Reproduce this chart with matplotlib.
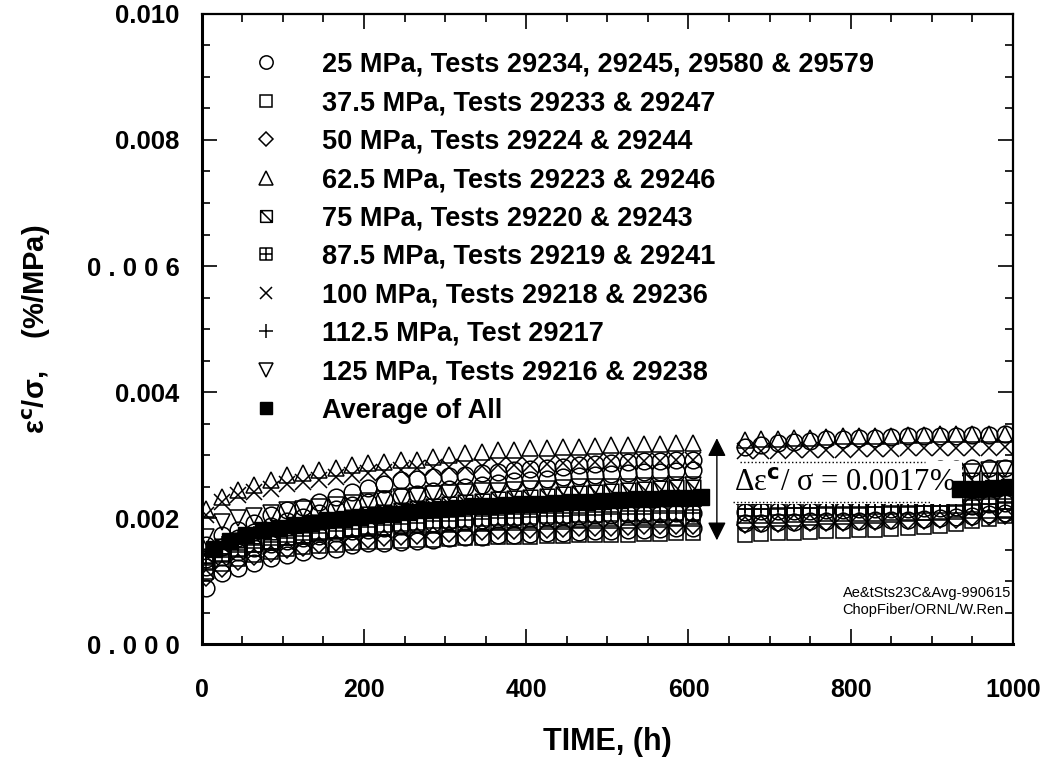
import numpy as np
import matplotlib
matplotlib.use('Agg')
import matplotlib.pyplot as plt
from matplotlib.path import Path
from matplotlib import font_manager

# TIME GRIDS (h)
t_left = list(range(5, 606, 20))
t_right = list(range(670, 991, 20))
t_avg_left = list(range(15, 616, 20))
t_avg_right = [935, 955, 975, 995]

# CREEP COMPLIANCE VALUES, in units of 1e-4 %/MPa
# 25 MPa, four tests
circ_a_l = [15.7, 17.3, 18.1, 19.2, 20.5, 21.3, 21.8, 22.6, 23.4, 24.2, 24.8, 25.4, 26.0, 26.3, 26.5, 26.7,
            26.9, 27.1, 27.4, 27.6, 27.8, 28.0, 28.2, 28.4, 28.6, 28.8, 28.9, 29.0, 29.1, 29.2, 29.3]
circ_a_r = [31.3, 31.6, 31.9, 32.1, 32.3, 32.5, 32.6, 32.7, 32.8, 32.9, 33.0, 33.0, 33.1, 33.1, 33.2, 33.2, 33.3]
circ_b_l = [13.5, 15.5, 16.8, 17.8, 18.7, 19.5, 20.2, 20.9, 21.5, 22.1, 22.6, 23.1, 23.5, 23.9, 24.3, 24.7,
            25.0, 25.3, 25.6, 25.9, 26.1, 26.3, 26.5, 26.7, 26.9, 27.0, 27.2, 27.3, 27.4, 27.5, 27.6]
circ_b_r = [27.0, 27.1, 27.2, 27.3, 27.3, 27.4, 27.5, 27.5, 27.6, 27.6, 27.7, 27.7, 27.8, 27.8, 27.9, 27.9, 28.0]
circ_c_l = [12.2, 13.8, 14.6, 15.3, 15.9, 16.4, 16.8, 17.2, 17.6, 17.9, 18.2, 18.5, 18.8, 19.1, 19.3, 19.5,
            19.6, 19.8, 19.9, 20.0, 20.1, 20.2, 20.3, 20.4, 20.5, 20.5, 20.6, 20.7, 20.7, 20.8, 20.8]
circ_c_r = [21.0, 21.1, 21.1, 21.2, 21.2, 21.3, 21.3, 21.4, 21.4, 21.5, 21.5, 21.6, 21.7, 21.8, 22.0, 22.2, 22.4]
circ_d_l = [8.9, 11.3, 12.1, 12.9, 13.7, 14.2, 14.7, 14.9, 15.2, 15.7, 16.0, 16.0, 16.2, 16.4, 16.6, 16.8,
            17.0, 17.1, 17.3, 17.4, 17.5, 17.6, 17.7, 17.8, 17.9, 18.0, 18.1, 18.2, 18.3, 18.4, 18.5]
circ_d_r = [19.2, 19.3, 19.4, 19.4, 19.5, 19.5, 19.6, 19.6, 19.7, 19.7, 19.8, 19.9, 20.0, 20.2, 20.4, 20.6, 20.8]
# 37.5 MPa, two tests
sq_a_l = [11.5, 12.8, 13.6, 14.2, 14.7, 15.1, 15.4, 15.6, 15.8, 16.0, 16.2, 16.3, 16.4, 16.5, 16.6, 16.7,
          16.8, 16.9, 17.0, 17.1, 17.1, 17.2, 17.2, 17.3, 17.3, 17.4, 17.4, 17.5, 17.5, 17.6, 17.6]
sq_a_r = [17.4, 17.5, 17.6, 17.7, 17.8, 17.9, 18.0, 18.1, 18.2, 18.3, 18.4, 18.6, 18.8, 19.1, 19.5, 19.9, 20.3]
sq_b_l = [13.0, 14.4, 15.2, 15.8, 16.3, 16.8, 17.2, 17.5, 17.8, 18.1, 18.3, 18.5, 18.7, 18.9, 19.0, 19.1,
          19.2, 19.3, 19.4, 19.5, 19.6, 19.7, 19.7, 19.8, 19.9, 19.9, 20.0, 20.0, 20.1, 20.1, 20.2]
sq_b_r = [20.3, 20.4, 20.4, 20.5, 20.5, 20.6, 20.6, 20.7, 20.7, 20.8, 20.8, 20.9, 20.9, 21.0, 21.1, 21.2, 21.3]
# 50 MPa
dia_l = [10.5, 12.0, 13.0, 13.8, 14.4, 14.9, 15.3, 15.7, 16.0, 16.3, 16.6, 16.8, 17.0, 17.2, 17.4, 17.5,
         17.7, 17.8, 17.9, 18.0, 18.1, 18.2, 18.3, 18.4, 18.5, 18.5, 18.6, 18.7, 18.7, 18.8, 18.8]
dia_r = [19.0, 19.1, 19.1, 19.2, 19.2, 19.3, 19.3, 19.4, 19.4, 19.5, 19.5, 19.6, 19.7, 19.8, 20.0, 20.2, 20.4]
# 62.5 MPa
tri_l = [21.5, 23.4, 24.5, 25.2, 26.0, 26.8, 27.1, 27.6, 27.9, 28.4, 28.7, 28.9, 29.2, 29.3, 29.7, 30.0,
         30.3, 30.5, 30.8, 30.8, 31.1, 31.1, 31.3, 31.3, 31.4, 31.6, 31.6, 31.7, 31.8, 31.9, 32.0]
tri_r = [32.4, 32.5, 32.6, 32.7, 32.8, 32.9, 33.0, 33.0, 33.1, 33.1, 33.2, 33.2, 33.3, 33.3, 33.3, 33.4, 33.4]
# 75 MPa
sqd_l = [14.0, 15.6, 16.5, 17.2, 17.8, 18.4, 18.9, 19.4, 19.8, 20.2, 20.6, 21.0, 21.3, 21.6, 21.9, 22.2,
         22.5, 22.7, 23.0, 23.2, 23.4, 23.6, 23.8, 24.0, 24.2, 24.4, 24.5, 24.7, 24.8, 24.9, 25.0]
sqd_r = [25.3, 25.4, 25.4, 25.5, 25.5, 25.6, 25.6, 25.7, 25.7, 25.8, 25.8, 25.9, 25.9, 26.0, 26.0, 26.1, 26.1]
# 87.5 MPa
sqp_l = [12.9, 14.2, 15.0, 15.7, 16.3, 16.8, 17.2, 17.6, 18.0, 18.3, 18.6, 18.9, 19.1, 19.3, 19.5, 19.6,
         19.8, 19.9, 20.0, 20.1, 20.2, 20.3, 20.4, 20.5, 20.5, 20.6, 20.7, 20.7, 20.8, 20.8, 20.9]
sqp_r = [21.5, 21.5, 21.6, 21.6, 21.6, 21.7, 21.7, 21.7, 21.8, 21.8, 21.8, 21.9, 21.9, 22.0, 22.1, 22.3, 22.5]
# 100 MPa
x_l = [20.5, 22.6, 23.7, 24.2, 24.7, 25.5, 25.8, 26.0, 26.6, 26.8, 27.1, 27.4, 27.6, 27.9, 28.0, 28.1,
       28.2, 28.3, 28.4, 28.4, 28.5, 28.6, 28.7, 28.8, 28.9, 29.0, 29.0, 29.1, 29.1, 29.2, 29.2]
x_r = [30.6, 30.7, 30.7, 30.8, 30.8, 30.9, 30.9, 31.0, 31.0, 31.0, 31.1, 31.1, 31.1, 31.2, 31.2, 31.2, 31.3]
# 112.5 MPa
plus_l = [14.5, 15.8, 16.6, 17.3, 17.9, 18.4, 18.8, 19.2, 19.5, 19.8, 20.0, 20.2, 20.4, 20.6, 20.7, 20.9,
          21.0, 21.1, 21.2, 21.3, 21.4, 21.5, 21.5, 21.6, 21.7, 21.7, 21.8, 21.8, 21.9, 21.9, 22.0]
plus_r = [22.3, 22.3, 22.4, 22.4, 22.4, 22.5, 22.5, 22.5, 22.6, 22.6, 22.6, 22.7, 22.7, 22.8, 22.9, 23.0, 23.1]
# 125 MPa
tdn_l = [17.0, 19.4, 20.0, 20.3, 20.8, 21.3, 21.5, 21.8, 22.1, 22.4, 22.7, 23.0, 23.3, 23.6, 23.8, 24.0,
         24.2, 24.3, 24.4, 24.5, 24.6, 24.7, 24.8, 24.9, 24.9, 25.0, 25.0, 25.1, 25.1, 25.2, 25.2]
tdn_r = [25.8, 25.9, 26.0, 26.1, 26.2, 26.3, 26.4, 26.5, 26.6, 26.7, 26.8, 26.9, 27.0, 27.2, 27.4, 27.6, 27.8]
# average of all
avg_l = [15.2, 16.4, 17.3, 18.1, 18.5, 18.9, 19.2, 19.7, 19.9, 20.2, 20.5, 20.7, 21.0, 21.3, 21.5, 21.7,
         21.9, 22.0, 22.1, 22.2, 22.3, 22.4, 22.5, 22.6, 22.7, 22.9, 23.0, 23.1, 23.2, 23.2, 23.3]
avg_r = [24.6, 24.7, 24.8, 24.9]

labels = ["25 MPa, Tests 29234, 29245, 29580 & 29579",
          "37.5 MPa, Tests 29233 & 29247",
          "50 MPa, Tests 29224 & 29244",
          "62.5 MPa, Tests 29223 & 29246",
          "75 MPa, Tests 29220 & 29243",
          "87.5 MPa, Tests 29219 & 29241",
          "100 MPa, Tests 29218 & 29236",
          "112.5 MPa, Test 29217",
          "125 MPa, Tests 29216 & 29238",
          "Average of All"]


def pick_font(name, fallback):
  try:
    font_manager.findfont(name, fallback_to_default=False)
    return name
  except Exception:
    return fallback


SANS = pick_font('Liberation Sans', 'DejaVu Sans')
SERIF = pick_font('Liberation Serif', 'DejaVu Serif')
plt.rcParams['font.family'] = [SANS, 'DejaVu Sans']

# custom markers: square with a diagonal, square with a cross
M, L, C = Path.MOVETO, Path.LINETO, Path.CLOSEPOLY
sq_diag = Path([(-1, -1), (1, -1), (1, 1), (-1, 1), (-1, -1), (-1, 1), (1, -1)],
               [M, L, L, L, C, M, L])
sq_plus = Path([(-1, -1), (1, -1), (1, 1), (-1, 1), (-1, -1), (0, -1), (0, 1), (-1, 0), (1, 0)],
               [M, L, L, L, C, M, L, M, L])

groups = [
  ('o', 12, [(circ_a_l, circ_a_r), (circ_b_l, circ_b_r), (circ_c_l, circ_c_r), (circ_d_l, circ_d_r)]),
  ('s', 10.5, [(sq_a_l, sq_a_r), (sq_b_l, sq_b_r)]),
  ('D', 8.5, [(dia_l, dia_r)]),
  ('^', 12, [(tri_l, tri_r)]),
  (sq_diag, 10.5, [(sqd_l, sqd_r)]),
  (sq_plus, 10.5, [(sqp_l, sqp_r)]),
  ('x', 11.5, [(x_l, x_r)]),
  ('+', 12.5, [(plus_l, plus_r)]),
  ('v', 12, [(tdn_l, tdn_r)]),
]

fig = plt.figure(figsize=(10.4, 7.68), dpi=100)
ax = fig.add_axes([0.194, 0.161, 0.780, 0.821])

handles = []
for (mk, ms, rows), lab in zip(groups, labels):
  for i, (vl, vr) in enumerate(rows):
    t = t_left + t_right
    v = np.array(vl + vr) * 1e-4
    h, = ax.plot(t, v, linestyle='none', marker=mk, ms=ms, mfc='none', mec='black',
                 mew=1.1, zorder=3)
    if i == 0:
      handles.append(h)

h, = ax.plot(t_avg_left + t_avg_right, np.array(avg_l + avg_r) * 1e-4, linestyle='none',
             marker='s', ms=11, mfc='black', mec='black', zorder=6)
handles.append(h)

ax.set_xlim(0, 1000)
ax.set_ylim(0, 0.010)
ax.set_xticks(range(0, 1001, 200))
ax.set_xticks(range(0, 1001, 50), minor=True)
ax.set_yticks([0, 0.002, 0.004, 0.006, 0.008, 0.010])
ax.set_yticks(np.arange(0, 0.0101, 0.0005), minor=True)
ax.set_yticklabels(['0 . 0 0 0', '0.002', '0.004', '0 . 0 0 6', '0.008', '0.010'])
ax.tick_params(which='both', direction='in', top=True, right=True, width=1.2)
ax.tick_params(which='major', length=11)
ax.tick_params(which='minor', length=6)
ax.tick_params(axis='x', pad=24)
ax.tick_params(axis='y', pad=16)
for lab in ax.get_xticklabels():
  lab.set_fontweight('bold')
  lab.set_fontsize(18)
for lab in ax.get_yticklabels():
  lab.set_fontweight('bold')
  lab.set_fontsize(18.5)
for s in ax.spines.values():
  s.set_linewidth(1.6)
ax.spines['left'].set_linewidth(2.2)
ax.spines['bottom'].set_linewidth(2.2)

ax.set_xlabel('TIME, (h)', fontweight='bold', fontsize=22, labelpad=18)
ax.set_ylabel(r'ε$^{\mathbf{c}}$/σ,    (%/MPa)', fontweight='bold', fontsize=21, labelpad=24,
              math_fontfamily='dejavusans')

ax.legend(handles, labels, loc='upper left', bbox_to_anchor=(0.062, 0.94), frameon=False,
          borderpad=0, borderaxespad=0, handlelength=1.0, handletextpad=1.57, labelspacing=0.46,
          markerscale=0.8, prop={'family': SANS, 'weight': 'bold', 'size': 19.5})

# delta annotation
ax.annotate('', xy=(635, 0.00327), xytext=(635, 0.00165),
            arrowprops=dict(arrowstyle='<|-|>', color='black', lw=1.0, mutation_scale=28,
                            shrinkA=0, shrinkB=0), zorder=7)
ax.text(656, 0.00256, r'Δε$^{\mathbf{c}}$/ σ = 0.0017%', fontfamily=SERIF, fontsize=22,
        va='center', ha='left', math_fontfamily='dejavusans', zorder=5,
        bbox=dict(facecolor='white', edgecolor='none', pad=5))
ax.plot([663, 892], [0.00289, 0.00289], linestyle=':', color='black', lw=1.0, zorder=5)
ax.plot([655, 898], [0.00225, 0.00225], linestyle=':', color='black', lw=1.0, zorder=5)

ax.text(790, 0.000685, 'Ae&tSts23C&Avg-990615\nChopFiber/ORNL/W.Ren', fontsize=10.5,
        va='center', ha='left', linespacing=1.3)

fig.savefig('out.png', dpi=100)
